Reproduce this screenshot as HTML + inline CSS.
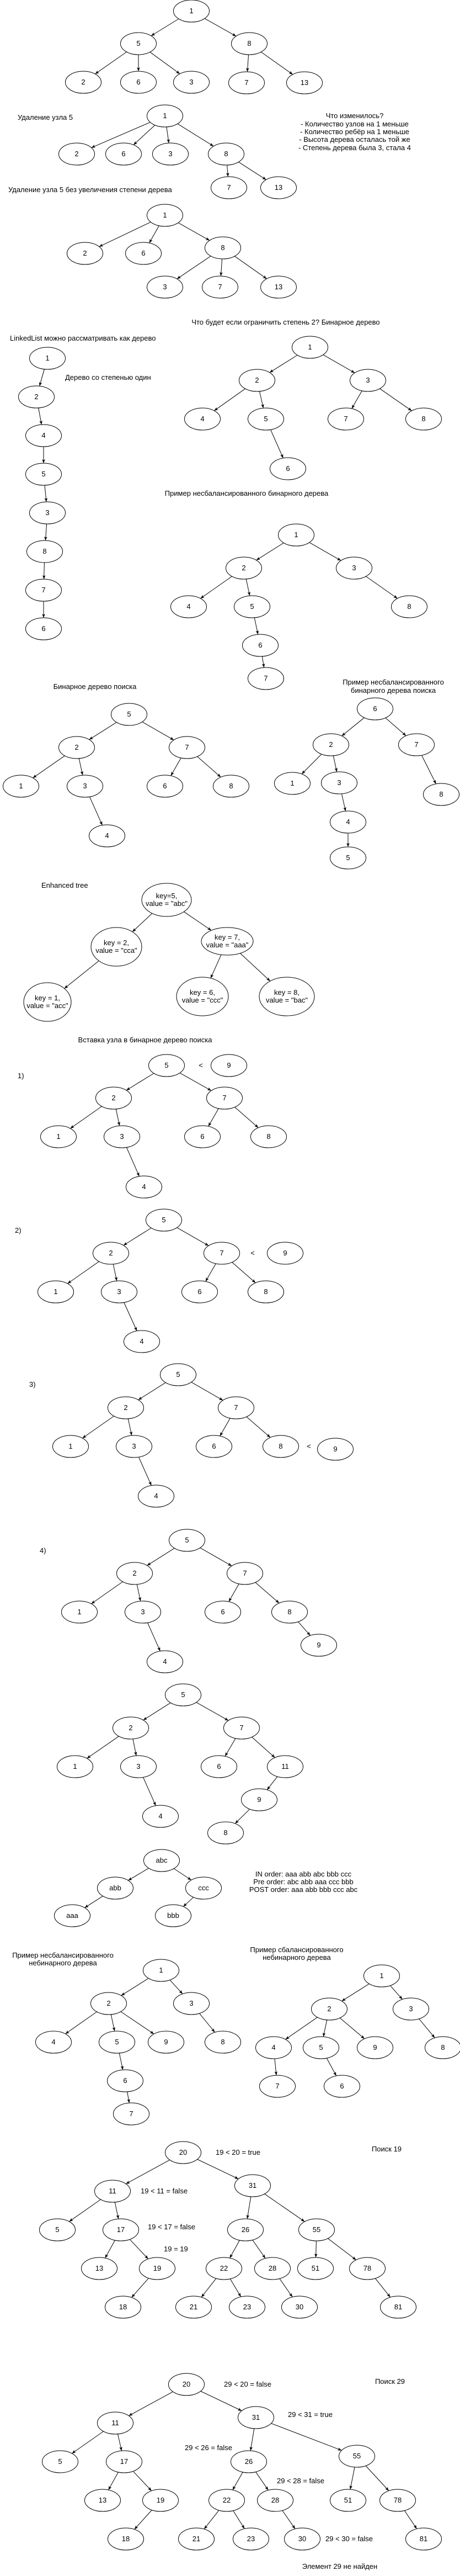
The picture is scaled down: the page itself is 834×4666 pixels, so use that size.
<!DOCTYPE html>
<html><head><meta charset="utf-8">
<style>
html,body{margin:0;padding:0;background:#fff;}
svg{display:block;}
text{font-family:"Liberation Sans Narrow","Liberation Sans",sans-serif;font-size:13px;fill:#000;}
</style></head>
<body>
<svg id="c" width="834" height="4666" viewBox="0 0 834 4666" xmlns="http://www.w3.org/2000/svg">
<defs><marker id="ah" viewBox="0 0 10 10" refX="10" refY="5" markerWidth="7" markerHeight="7" orient="auto"><path d="M0,1 L10,5 L0,9 L2.5,5 z" fill="#000"/></marker></defs>
<g id="labels"></g>
</svg>
<script>
// Trees: node lists [label, x, y, (rx), (ry)] and edge lists [parent, child]
const treeNames = ['tree-original','tree-remove5','tree-remove5-nodegree','linked-list','binary-tree','unbalanced-binary','bst','unbalanced-bst','enhanced-tree','insert-step1','insert-step2','insert-step3','insert-step4','bst-after-inserts','traversal-tree','unbalanced-nonbinary','balanced-nonbinary','search-19','search-29'];
const treeNodes = [
 [['1',347,20],['5',251,79],['8',452,79],['2',151,149],['6',251,149],['3',347,149],['7',447,150],['13',552,150]],
 [['1',299,210],['2',139,279],['6',224,279],['3',309,279],['8',410,279],['7',415,340],['13',505,340]],
 [['1',299,390],['2',154,459],['6',260,459],['8',404,449],['3',299,520],['7',399,520],['13',505,520]],
 [['1',86,649],['2',66,719],['4',79,789],['5',79,859],['3',86,929],['8',81,999],['7',79,1069],['6',79,1139]],
 [['1',562,629],['2',466,689],['3',667,689],['4',367,759],['5',482,759],['7',627,759],['8',768,759],['6',522,849]],
 [['1',537,969],['2',442,1029],['3',642,1029],['4',342,1099],['5',457,1099],['8',742,1099],['6',472,1169],['7',482,1229]],
 [['5',234,1294],['2',139,1354],['7',339,1354],['1',38,1424],['3',154,1424],['6',299,1424],['8',419,1424],['4',194,1514]],
 [['6',680,1284],['2',600,1349],['7',755,1349],['1',530,1419],['3',615,1418],['8',800,1439],['4',631,1489],['5',631,1554]],
 [['key=5,|value = "abc"',302,1630,45,30],['key = 2,|value = "cca"',211,1715,46,35],['key = 7,|value = "aaa"',412,1705,47,25],['key = 1,|value = "acc"',86,1815,43,35],['key = 6,|value = "ccc"',367,1805,47,35],['key = 8,|value = "bac"',520,1805,50,35]],
 [['5',302,1930],['2',206,1989],['7',407,1989],['1',106,2059],['3',221,2059],['6',367,2059],['8',487,2059],['4',261,2150],['9',415,1930]],
 [['5',297,2210],['2',201,2270],['7',402,2270],['1',101,2340],['3',216,2340],['6',362,2340],['8',482,2340],['4',257,2430],['9',517,2270]],
 [['5',323,2490],['2',228,2550],['7',428,2550],['1',128,2620],['3',243,2620],['6',388,2620],['8',509,2620],['4',283,2710],['9',608,2625]],
 [['5',339,2790],['2',244,2850],['7',444,2850],['1',144,2920],['3',259,2920],['6',404,2920],['8',525,2920],['4',299,3010],['9',578,2980]],
 [['5',332,3070],['2',237,3130],['7',438,3130],['1',136,3200],['3',251,3200],['6',397,3200],['11',517,3200],['4',291,3290],['9',470,3260],['8',409,3320]],
 [['abc',293,3370],['abb',209,3420],['ccc',369,3420],['aaa',131,3470],['bbb',314,3470]],
 [['1',292,3569],['2',197,3629],['3',347,3629],['4',97,3699],['5',212,3699],['9',301,3699],['8',404,3699],['6',227,3769],['7',238,3829]],
 [['1',692,3579],['2',597,3639],['3',745,3639],['4',496,3709],['5',582,3709],['9',680,3709],['8',803,3709],['7',503,3779],['6',620,3779]],
 [['20',332,3899],['11',204,3969],['31',458,3959],['5',104,4039],['17',219,4039],['26',445,4039],['55',574,4039],['13',180,4109],['19',285,4109],['22',406,4109],['28',494,4109],['51',572,4109],['78',666,4109],['18',223,4179],['21',351,4179],['23',448,4179],['30',543,4179],['81',722,4179]],
 [['20',338,4319],['11',209,4389],['31',464,4379],['5',109,4459],['17',225,4459],['26',451,4459],['55',647,4449],['13',186,4529],['19',291,4529],['22',411,4529],['28',499,4529],['51',631,4529],['78',721,4529],['18',228,4599],['21',356,4599],['23',455,4599],['30',548,4599],['81',768,4599]]
];
const searchEdges = [[0,1],[0,2],[1,3],[1,4],[2,5],[2,6],[4,7],[4,8],[5,9],[5,10],[6,11],[6,12],[8,13],[9,14],[9,15],[10,16],[12,17]];
const insEdges = [[0,1],[0,2],[1,3],[1,4],[2,5],[2,6],[4,7]];
const treeEdges = [
 [[0,1],[0,2],[1,3],[1,4],[1,5],[2,6],[2,7]],
 [[0,1],[0,2],[0,3],[0,4],[4,5],[4,6]],
 [[0,1],[0,2],[0,3],[3,4],[3,5],[3,6]],
 [[0,1],[1,2],[2,3],[3,4],[4,5],[5,6],[6,7]],
 [[0,1],[0,2],[1,3],[1,4],[2,5],[2,6],[4,7]],
 [[0,1],[0,2],[1,3],[1,4],[2,5],[4,6],[6,7]],
 [[0,1],[0,2],[1,3],[1,4],[2,5],[2,6],[4,7]],
 [[0,1],[0,2],[1,3],[1,4],[2,5],[4,6],[6,7]],
 [[0,1],[0,2],[1,3],[2,4],[2,5]],
 insEdges, insEdges, insEdges,
 [[0,1],[0,2],[1,3],[1,4],[2,5],[2,6],[4,7],[6,8]],
 [[0,1],[0,2],[1,3],[1,4],[2,5],[2,6],[4,7],[6,8],[8,9]],
 [[0,1],[0,2],[1,3],[2,4]],
 [[0,1],[0,2],[1,3],[1,4],[1,5],[2,6],[4,7],[7,8]],
 [[0,1],[0,2],[1,3],[1,4],[1,5],[2,6],[3,7],[4,8]],
 searchEdges, searchEdges
];
// Free text labels: [text, x, y, anchor]
const captions = [
 ['Удаление узла 5',32,217,'start'],
 ['Что изменилось?',643,214,'middle'],
 ['- Количество узлов на 1 меньше',643,229,'middle'],
 ['- Количество ребёр на 1 меньше',643,243,'middle'],
 ['- Высота дерева осталась той же',643,257,'middle'],
 ['- Степень дерева была 3, стала 4',643,272,'middle'],
 ['Удаление узла 5 без увеличения степени дерева',15,348,'start'],
 ['Что будет если ограничить степень 2? Бинарное дерево',518,588,'middle'],
 ['LinkedList можно рассматривать как дерево',18,617,'start'],
 ['Дерево со степенью один',118,688,'start'],
 ['Пример несбалансированного бинарного дерева',447,898,'middle'],
 ['Бинарное дерево поиска',172,1248,'middle'],
 ['Пример несбалансированного',713,1240,'middle'],
 ['бинарного дерева поиска',713,1255,'middle'],
 ['Enhanced tree',75,1608,'start'],
 ['Вставка узла в бинарное дерево поиска',263,1888,'middle'],
 ['1)',32,1953,'start'],['<',364,1934,'middle'],
 ['2)',27,2233,'start'],['<',458,2274,'middle'],
 ['3)',53,2512,'start'],['<',560,2624,'middle'],
 ['4)',72,2813,'start'],
 ['IN order: aaa abb abc bbb ccc',550,3399,'middle'],
 ['Pre order: abc abb aaa ccc bbb',550,3413,'middle'],
 ['POST order: aaa abb bbb ccc abc',550,3427,'middle'],
 ['Пример несбалансированного',114,3546,'middle'],
 ['небинарного дерева',114,3560,'middle'],
 ['Пример сбалансированного',538,3536,'middle'],
 ['небинарного дерева',538,3550,'middle'],
 ['19 < 20 = true',391,3903,'start'],
 ['Поиск 19',701,3897,'middle'],
 ['19 < 11 = false',255,3973,'start'],
 ['19 < 17 = false',268,4038,'start'],
 ['19 = 19',297,4078,'start'],
 ['29 < 20 = false',406,4323,'start'],
 ['Поиск 29',707,4318,'middle'],
 ['29 < 31 = true',522,4378,'start'],
 ['29 < 26 = false',335,4438,'start'],
 ['29 < 28 = false',502,4498,'start'],
 ['29 < 30 = false',590,4603,'start'],
 ['Элемент 29 не найден',616,4653,'middle']
];
const NS='http://www.w3.org/2000/svg';
const svg=document.getElementById('c');
function mk(tag,attrs,parent){const e=document.createElementNS(NS,tag);for(const k in attrs)e.setAttribute(k,attrs[k]);parent.appendChild(e);return e;}
treeNodes.forEach((nodes,ti)=>{
  const g=mk('g',{},svg);
  
  
  const R=n=>[n[3]||32.5,n[4]||20];
  treeEdges[ti].forEach(([a,b])=>{
    const p=nodes[a],c=nodes[b];const dx=c[1]-p[1],dy=c[2]-p[2];
    const [prx,pry]=R(p),[crx,cry]=R(c);
    const t1=1/Math.sqrt((dx/prx)**2+(dy/pry)**2),t2=1/Math.sqrt((dx/crx)**2+(dy/cry)**2);
    const l=mk('line',{x1:p[1]+dx*t1,y1:p[2]+dy*t1,x2:c[1]-dx*t2,y2:c[2]-dy*t2,stroke:'#000','stroke-width':1,'marker-end':'url(#ah)'},g);
    
    
  });
  nodes.forEach(n=>{
    const [rx,ry]=R(n);
    const ng=mk('g',{},g);
    
    
    mk('ellipse',{cx:n[1],cy:n[2],rx:rx,ry:ry,fill:'#fff',stroke:'#000','stroke-width':1},ng);
    const lines=n[0].split('|');
    lines.forEach((s,i)=>{
      const t=mk('text',{x:n[1],y:n[2]+4+(i-(lines.length-1)/2)*14,'text-anchor':'middle'},ng);
      t.textContent=s;
    });
  });
});
const lg=document.getElementById('labels');
captions.forEach(c=>{
  const t=mk('text',{x:c[1],y:c[2],'text-anchor':c[3]},lg);
  
  
  t.textContent=c[0];
});
</script>
</body></html>
